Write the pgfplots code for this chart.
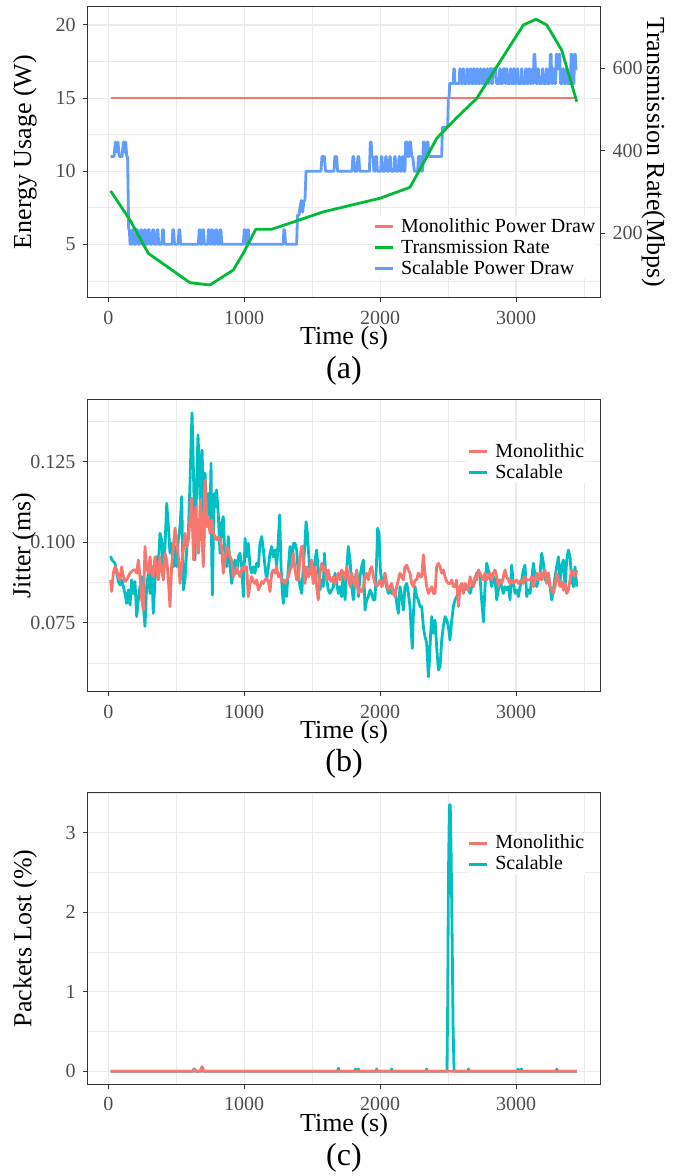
\documentclass[border=0pt]{standalone}
\usepackage{fontspec}
\setmainfont{Liberation Serif}
\usepackage{pgfplots}
\pgfplotsset{compat=1.18}
\definecolor{cred}{HTML}{F8766D}
\definecolor{cgreen}{HTML}{00BA38}
\definecolor{cblue}{HTML}{619CFF}
\definecolor{ccyan}{HTML}{00BFC4}
\definecolor{gridc}{HTML}{EBEBEB}
\definecolor{grey20}{HTML}{333333}
\definecolor{grey30}{HTML}{4D4D4D}
\pgfplotsset{
 gg/.style={
  scale only axis,
  width=513.4pt,
  anchor=south west,
  xmin=-154.5, xmax=3623,
  xtick={0,1000,2000,3000},
  xticklabels={0,1000,2000,3000},
  minor xtick={500,1500,2500,3500},
  grid=both,
  major grid style={draw=gridc, line width=1.1pt},
  minor grid style={draw=gridc, line width=0.7pt},
  minor tick length=0pt,
  major tick length=4.6pt,
  tick align=outside,
  tick pos=left,
  axis line style={draw=grey20, line width=1.1pt},
  every tick/.style={draw=grey20, line width=1pt},
  tick label style={font=\fontsize{20}{24}\selectfont, text=grey30},
  xticklabel style={anchor=base, inner sep=0pt, yshift=-21.8pt},
  yticklabel style={anchor=east, inner sep=0pt, xshift=-7pt},
  legend cell align=left,
  legend style={draw=none, fill=white, inner sep=0pt, font=\fontsize{20}{24}\selectfont, row sep=0pt,
    column sep=6pt,
    nodes={inner sep=1pt, text height=15pt, text depth=4pt}, anchor=north west},
  legend image code/.code={\draw[#1, line width=2.8pt] (0pt,0pt) -- (18pt,0pt);},
 },
}
\tikzset{
 ttlfont/.style={font=\fontsize{26}{30}\selectfont, inner sep=0pt},
 capfont/.style={font=\fontsize{32}{36}\selectfont, inner sep=0pt},
}
\begin{document}
\begin{tikzpicture}
\useasboundingbox (0,0) rectangle (692pt,1176pt);
% ---------------- (a) ----------------
\begin{axis}[gg, at={(87.3pt,878.3pt)}, height=291pt,
  ymin=1.35, ymax=21.25, ytick={5,10,15,20}, yticklabels={5,10,15,20},
  minor ytick={2.5,7.5,12.5,17.5}]
\addplot[cred, line width=2.8pt] coordinates {(17,15)(3440,15)};
\addplot[cblue, line width=2.8pt, line join=round] coordinates {
(17,11)(42,11)(52,12)(62,11.3)(71,12)(81,11)(101,11)(111,12)(120,11.3)(128,12)(136,11)(142,11)(150,6)(155,6)(160,5)
(171,5)(177,6)(183,6)(189,5)
(203,5)(209,6)(215,6)(221,5)
(233,5)(239,6)(245,6)(251,5)
(261,5)(267,6)(273,6)(279,5)
(289,5)(295,6)(301,6)(307,5)
(321,5)(327,6)(333,6)(339,5)
(353,5)(359,6)(365,6)(371,5)
(393,5)(399,6)(405,6)(411,5)
(469,5)(475,6)(481,6)(487,5)
(514,5)(520,6)(526,6)(532,5)
(663,5)(669,6)(675,6)(681,5)
(689,5)(695,6)(701,6)(707,5)
(731,5)(737,6)(743,6)(749,5)
(756,5)(762,6)(768,6)(774,5)
(786,5)(792,6)(798,6)(804,5)
(817,5)(823,6)(829,6)(835,5)
(994,5)(1000,6)(1006,6)(1012,5)
(1019,5)(1025,6)(1031,6)(1037,5)
(1286,5)(1292,6)(1298,6)(1304,5)
(1386,5)(1392,7)(1404,7)(1410,7.5)(1420,8)(1430,7.2)(1440,8)(1447,8)(1455,10)
(1565,10)(1572,11)(1590,11)(1598,10)
(1660,10)(1667,11)(1680,11)(1687,10)
(1793,10)(1800,11)(1806,11)(1813,10)
(1830,10)(1837,11)(1843,11)(1850,10)
(1921,10)(1928,12)(1934,12)(1940,11)(1948,11)(1954,10)
(1962,10)(1968,11)(1974,11)(1980,10)
(2004,10)(2009,11)(2013,11)(2018,10)
(2036,10)(2041,11)(2045,11)(2050,10)
(2066,10)(2071,11)(2075,11)(2080,10)
(2102,10)(2107,11)(2111,11)(2116,10)
(2134,10)(2139,11)(2143,11)(2148,10)
(2159,10)(2164,11)(2168,11)(2173,10)
(2183,10)(2188,12)(2196,12)(2204,11)(2212,11)(2217,12)(2224,12)(2232,11)(2240,11)(2252,10)(2262,10)
(2276,10)(2282,11)(2298,11)(2304,10)
(2312,10)(2318,12)(2325,12)(2333,11)(2340,11)(2346,12)(2352,12)(2360,11)
(2453,11)(2458,13)(2497,13)(2502,15)(2507,15)(2512,16)
(2538,16)(2542,17)(2546,17)(2550,16)
(2582,16)(2586,17)(2590,17)(2594,16)
(2606,16)(2610,17)(2614,17)(2618,16)
(2636,16)(2640,17)(2644,17)(2648,16)
(2660,16)(2664,17)(2668,17)(2672,16)
(2685,16)(2689,17)(2693,17)(2697,16)
(2709,16)(2713,17)(2717,17)(2721,16)
(2734,16)(2738,17)(2742,17)(2746,16)
(2758,16)(2762,17)(2766,17)(2770,16)
(2783,16)(2787,17)(2791,17)(2795,16)
(2802,16)(2806,17)(2818,17)(2822,16)(2828,16)(2832,17)(2850,17)(2856,16)
(2876,16)(2880,17)(2884,17)(2888,16)
(2903,16)(2907,17)(2918,17)(2922,16)
(2925,16)(2929,17)(2933,17)(2937,16)
(2955,16)(2959,17)(2963,17)(2967,16)
(2979,16)(2983,17)(2987,17)(2991,16)
(3004,16)(3008,17)(3012,17)(3016,16)
(3036,16)(3040,17)(3044,17)(3048,16)
(3067,16)(3071,17)(3075,17)(3079,16)
(3092,16)(3096,17)(3100,17)(3104,16)
(3116,16)(3120,17)(3124,17)(3128,16)(3132,18)(3138,18)(3143,17)(3148,16)
(3158,16)(3162,17)(3166,17)(3170,16)
(3190,16)(3194,17)(3198,17)(3202,16)
(3220,16)(3224,17)(3228,17)(3232,16)
(3248,16)(3252,18)(3258,18)(3263,16)
(3269,16)(3273,17)(3277,17)(3281,16)
(3292,16)(3296,18)(3302,18)(3306,17)(3312,17)(3316,18)(3322,18)(3327,16)
(3342,16)(3346,17)(3350,17)(3354,16)
(3367,16)(3371,17)(3375,17)(3379,16)
(3401,16)(3405,18)(3411,18)(3415,16)(3426,16)(3430,18)(3436,18)(3441,17)(3451,17)
};
\end{axis}
\begin{axis}[gg, at={(87.3pt,878.3pt)}, height=291pt,
  ymin=43.9, ymax=749.3, axis y line*=right, hide x axis, grid=none,
  ytick={200,400,600}, yticklabels={200,400,600}, ytick pos=right,
  yticklabel style={anchor=west, xshift=14pt},
  legend style={at={(axis description cs:0.5565,0.2801)}, anchor=north west}]
\addlegendimage{cred}\addlegendentry{Monolithic Power Draw}
\addplot[cgreen, line width=2.8pt, line join=round] coordinates {
(17,302.5)(160,232)(294,151.5)(601,80.2)(748,74.7)(920,111)(993,151.5)(1085,209.7)(1202,209.7)(1582,252)(2000,285)(2220,311.5)(2318,370)(2416,430)(2563,480)(2711,527)(2882,616)(3054,705)(3147,719)(3226,705)(3336,644)(3447,519)};
\addlegendentry{Transmission Rate}
\addlegendimage{cblue}\addlegendentry{Scalable Power Draw}
\end{axis}
% ---------------- (b) ----------------
\begin{axis}[gg, at={(87.3pt,484.3pt)}, height=292.4pt,
  ymin=0.05354, ymax=0.14447, ytick={0.075,0.1,0.125}, yticklabels={0.075,0.100,0.125},
  minor ytick={0.0625,0.0875,0.1125,0.1375},
  legend style={at={(axis description cs:0.7402,0.8567)}, anchor=north west}]
\addlegendimage{cred}\addlegendentry{Monolithic}
\addlegendimage{ccyan}\addlegendentry{Scalable}
\addplot[ccyan, line width=2.8pt, line join=round, forget plot] coordinates {
(17,0.0957)(25,0.0947)(37,0.0940)(49,0.0935)(62,0.0904)(74,0.0878)(86,0.0867)(98,0.0883)(111,0.0862)(123,0.0841)(135,0.0810)(147,0.0852)(160,0.0805)(172,0.0883)(184,0.0841)(196,0.0878)(209,0.0769)(221,0.0821)(233,0.0862)(246,0.0893)(258,0.0800)(270,0.0738)(282,0.0862)(295,0.0904)(307,0.0841)(319,0.0924)(331,0.0779)(344,0.0883)(356,0.0955)(368,0.0924)(380,0.1028)(393,0.1007)(405,0.0904)(417,0.0987)(430,0.1121)(442,0.1049)(454,0.0966)(466,0.0997)(479,0.0924)(491,0.0987)(503,0.0924)(515,0.1007)(528,0.1049)(540,0.1142)(552,0.0852)(564,0.0883)(577,0.0976)(589,0.1028)(601,0.1184)(609,0.1308)(616,0.1403)(623,0.1287)(631,0.1132)(638,0.0945)(645,0.1080)(653,0.1235)(660,0.1334)(667,0.1256)(675,0.1132)(682,0.1215)(690,0.1287)(697,0.1173)(704,0.0987)(712,0.1215)(719,0.1132)(729,0.1049)(736,0.1152)(748,0.1080)(756,0.1246)(761,0.0955)(766,0.0836)(773,0.1028)(780,0.1152)(790,0.1111)(797,0.1163)(810,0.1080)(822,0.0966)(834,0.1059)(846,0.1080)(859,0.0945)(871,0.0924)(883,0.1018)(896,0.0924)(908,0.0872)(920,0.0914)(932,0.0945)(945,0.0904)(957,0.0955)(969,0.0966)(981,0.0924)(994,0.0831)(1006,0.1012)(1018,0.0955)(1030,0.0997)(1043,0.0924)(1055,0.0904)(1067,0.0924)(1079,0.0904)(1092,0.0935)(1104,0.0924)(1116,0.0997)(1129,0.1018)(1141,0.0976)(1153,0.0924)(1165,0.0883)(1178,0.0924)(1190,0.0966)(1202,0.0987)(1214,0.0955)(1227,0.0976)
(1239,0.0924)(1251,0.1007)(1261,0.1085)(1271,0.0924)(1281,0.0841)(1288,0.0810)(1300,0.0883)(1312,0.0831)(1325,0.0924)(1337,0.0987)(1349,0.0924)(1362,0.0997)(1374,0.0997)(1386,0.0976)(1398,0.0904)(1411,0.0862)(1423,0.0841)(1435,0.0924)(1447,0.0997)(1455,0.1064)(1465,0.1028)(1472,0.0976)(1484,0.0904)(1496,0.0935)(1509,0.0872)(1521,0.0945)(1533,0.0976)(1545,0.0914)(1558,0.0852)(1570,0.0883)(1582,0.0862)(1590,0.0966)(1599,0.0904)(1607,0.0883)(1619,0.0852)(1631,0.0841)(1644,0.0852)(1656,0.0862)(1668,0.0904)(1680,0.0872)(1693,0.0841)(1705,0.0862)(1717,0.0831)(1729,0.0904)(1742,0.0821)(1754,0.0914)(1766,0.0987)(1779,0.0945)(1791,0.0862)(1803,0.0821)(1815,0.0883)(1828,0.0914)(1840,0.0831)(1852,0.0893)(1864,0.0924)(1877,0.0945)(1889,0.0789)(1901,0.0821)(1913,0.0831)(1926,0.0852)(1938,0.0841)(1950,0.0821)(1962,0.0821)(1975,0.0955)(1982,0.1044)(1992,0.1028)(2002,0.0914)(2012,0.0872)(2024,0.0883)(2036,0.0904)(2048,0.0862)(2061,0.0841)(2073,0.0852)(2085,0.0841)(2097,0.0841)(2110,0.0852)(2122,0.0810)(2134,0.0779)(2146,0.0862)(2159,0.0831)(2171,0.0789)(2183,0.0862)(2196,0.0872)(2208,0.0841)(2220,0.0800)(2227,0.0738)(2237,0.0670)(2245,0.0779)(2257,0.0862)(2269,0.0831)(2281,0.0821)(2294,0.0800)(2306,0.0800)(2318,0.0738)(2330,0.0707)(2343,0.0686)(2355,0.0582)(2362,0.0624)(2372,0.0717)(2380,0.0769)(2392,0.0717)(2404,0.0758)(2416,0.0675)(2429,0.0603)(2441,0.0613)(2453,0.0696)(2465,0.0738)(2478,0.0769)
(2490,0.0758)(2502,0.0738)(2514,0.0696)(2527,0.0758)(2539,0.0800)(2551,0.0821)(2563,0.0831)(2576,0.0841)(2588,0.0862)(2600,0.0862)(2613,0.0852)(2625,0.0852)(2637,0.0862)(2649,0.0852)(2662,0.0841)(2674,0.0862)(2686,0.0862)(2698,0.0883)(2711,0.0904)(2723,0.0909)(2735,0.0893)(2747,0.0821)(2760,0.0753)(2772,0.0862)(2784,0.0935)(2796,0.0914)(2809,0.0893)(2821,0.0862)(2833,0.0893)(2846,0.0883)(2858,0.0821)(2870,0.0852)(2882,0.0883)(2895,0.0862)(2907,0.0841)(2919,0.0862)(2931,0.0852)(2944,0.0862)(2956,0.0821)(2968,0.0929)(2980,0.0872)(2993,0.0841)(3005,0.0852)(3017,0.0831)(3030,0.0862)(3042,0.0883)(3054,0.0914)(3066,0.0929)(3079,0.0831)(3091,0.0852)(3103,0.0841)(3115,0.0883)(3128,0.0935)(3140,0.0893)(3152,0.0862)(3164,0.0883)(3177,0.0904)(3189,0.0966)(3201,0.0935)(3213,0.0883)(3226,0.0893)(3238,0.0904)(3250,0.0862)(3263,0.0821)(3275,0.0852)(3287,0.0893)(3299,0.0924)(3312,0.0955)(3324,0.0883)(3336,0.0924)(3348,0.0945)(3361,0.0862)(3373,0.0945)(3385,0.0976)(3397,0.0955)(3410,0.0883)(3422,0.0862)(3434,0.0924)(3447,0.0862)};
\addplot[cred, line width=2.8pt, line join=round, forget plot] coordinates {
(17,0.0883)(25,0.0847)(37,0.0904)(49,0.0924)(62,0.0914)(74,0.0893)(86,0.0883)(98,0.0924)(111,0.0893)(123,0.0878)(135,0.0883)(147,0.0893)(160,0.0904)(172,0.0909)(184,0.0914)(196,0.0914)(209,0.0904)(221,0.0945)(233,0.0893)(246,0.0821)(258,0.0789)(270,0.0987)(282,0.0924)(295,0.0904)(307,0.0955)(319,0.0904)(331,0.0893)(344,0.0955)(356,0.0924)(368,0.0883)(380,0.0955)(393,0.0914)(405,0.0883)(417,0.0966)(430,0.0945)(442,0.0883)(454,0.0800)(466,0.0924)(479,0.0987)(491,0.1044)(503,0.1007)(515,0.0955)(528,0.0872)(540,0.0935)(552,0.0976)(564,0.1028)(577,0.0987)(589,0.1007)(601,0.1069)(613,0.1137)(621,0.1028)(628,0.0945)(638,0.1080)(645,0.1111)(653,0.1007)(663,0.0966)(670,0.1049)(677,0.1132)(687,0.1038)(699,0.0924)(707,0.1132)(712,0.1194)(719,0.1132)(726,0.1049)(736,0.1080)(748,0.1028)(761,0.1069)(773,0.1028)(785,0.1018)(797,0.1007)(810,0.1018)(822,0.1007)(834,0.0987)(846,0.0904)(859,0.0945)(871,0.0987)(883,0.0976)(896,0.0955)(908,0.0945)(920,0.0893)(932,0.0904)(945,0.0924)(957,0.0904)(969,0.0893)(981,0.0914)(994,0.0924)(1006,0.0914)(1018,0.0924)(1030,0.0831)(1043,0.0872)(1055,0.0893)(1067,0.0878)(1079,0.0872)(1092,0.0883)(1104,0.0852)(1116,0.0862)(1129,0.0878)(1141,0.0872)(1153,0.0883)(1165,0.0888)(1178,0.0878)(1190,0.0847)(1202,0.0904)(1214,0.0914)(1227,0.0904)
(1239,0.0924)(1251,0.0893)(1263,0.0904)(1276,0.0878)(1288,0.0883)(1300,0.0872)(1312,0.0883)(1325,0.0893)(1337,0.0914)(1349,0.0924)(1362,0.0966)(1374,0.0914)(1386,0.0883)(1398,0.0883)(1411,0.0955)(1423,0.0987)(1430,0.0987)(1440,0.0904)(1447,0.0872)(1460,0.0924)(1472,0.0893)(1484,0.0904)(1496,0.0945)(1509,0.0872)(1521,0.0924)(1533,0.0862)(1545,0.0821)(1558,0.0904)(1570,0.0935)(1582,0.0914)(1595,0.0924)(1607,0.0883)(1619,0.0914)(1631,0.0883)(1644,0.0878)(1656,0.0893)(1668,0.0872)(1680,0.0883)(1693,0.0904)(1705,0.0883)(1717,0.0914)(1729,0.0904)(1742,0.0883)(1754,0.0924)(1766,0.0893)(1779,0.0862)(1791,0.0904)(1803,0.0883)(1815,0.0862)(1828,0.0914)(1840,0.0841)(1852,0.0852)(1864,0.0847)(1877,0.0862)(1889,0.0893)(1901,0.0904)(1913,0.0883)(1926,0.0914)(1938,0.0924)(1950,0.0893)(1962,0.0872)(1975,0.0862)(1987,0.0872)(1999,0.0883)(2012,0.0862)(2024,0.0872)(2036,0.0904)(2048,0.0872)(2061,0.0852)(2073,0.0862)(2085,0.0872)(2097,0.0841)(2110,0.0831)(2122,0.0862)(2134,0.0883)(2146,0.0904)(2159,0.0893)(2171,0.0883)(2183,0.0924)(2196,0.0929)(2208,0.0914)(2220,0.0904)(2232,0.0872)(2245,0.0862)(2257,0.0883)(2269,0.0883)(2281,0.0904)(2294,0.0893)(2306,0.0893)(2318,0.0961)(2330,0.0904)(2343,0.0862)(2355,0.0841)(2367,0.0852)(2380,0.0862)(2392,0.0841)(2404,0.0841)(2416,0.0924)(2429,0.0935)(2441,0.0924)(2453,0.0904)(2465,0.0914)(2478,0.0893)
(2490,0.0878)(2502,0.0872)(2514,0.0872)(2527,0.0883)(2539,0.0862)(2551,0.0862)(2563,0.0883)(2576,0.0800)(2588,0.0862)(2600,0.0872)(2613,0.0841)(2625,0.0872)(2637,0.0862)(2649,0.0852)(2662,0.0893)(2674,0.0872)(2686,0.0862)(2698,0.0893)(2711,0.0883)(2723,0.0914)(2735,0.0904)(2747,0.0893)(2760,0.0883)(2772,0.0904)(2784,0.0883)(2796,0.0893)(2809,0.0904)(2821,0.0883)(2833,0.0904)(2846,0.0914)(2858,0.0893)(2870,0.0862)(2882,0.0883)(2895,0.0872)(2907,0.0893)(2919,0.0914)(2931,0.0893)(2944,0.0883)(2956,0.0872)(2968,0.0883)(2980,0.0872)(2993,0.0878)(3005,0.0883)(3017,0.0872)(3030,0.0878)(3042,0.0883)(3054,0.0872)(3066,0.0893)(3079,0.0883)(3091,0.0883)(3103,0.0883)(3115,0.0893)(3128,0.0862)(3140,0.0883)(3152,0.0904)(3164,0.0883)(3177,0.0904)(3189,0.0883)(3201,0.0904)(3213,0.0914)(3226,0.0872)(3238,0.0904)(3250,0.0862)(3263,0.0852)(3275,0.0841)(3287,0.0862)(3299,0.0904)(3312,0.0883)(3324,0.0862)(3336,0.0878)(3348,0.0852)(3361,0.0872)(3373,0.0841)(3385,0.0852)(3397,0.0883)(3410,0.0914)(3422,0.0904)(3434,0.0893)(3447,0.0914)};
\end{axis}
% ---------------- (c) ----------------
\begin{axis}[gg, at={(87.3pt,91.7pt)}, height=292pt,
  ymin=-0.163, ymax=3.508, ytick={0,1,2,3}, yticklabels={0,1,2,3},
  minor ytick={0.5,1.5,2.5,3.5},
  legend style={at={(axis description cs:0.7402,0.8613)}, anchor=north west}]
\addlegendimage{cred}\addlegendentry{Monolithic}
\addlegendimage{ccyan}\addlegendentry{Scalable}
\addplot[ccyan, line width=2.8pt, line join=round, forget plot] coordinates {
(17,0)(620,0)(632,0.03)(640,0)(686,0)(692,0.03)(698,0)(1688,0)(1693,0.04)(1698,0)(1812,0)(1818,0.03)(1824,0)(1836,0)(1840,0.03)(1846,0)(1970,0)(1975,0.03)(1980,0)(2080,0)(2085,0.03)(2090,0)(2337,0)(2342,0.03)(2347,0)
(2492,0)(2497,0.83)(2503,2.5)(2510,3.35)(2516,3.35)(2522,2.78)(2530,1.67)(2537,0.55)(2544,0)
(2645,0)(2650,0.03)(2655,0)(3010,0)(3015,0.03)(3020,0)(3035,0)(3040,0.03)(3045,0)(3295,0)(3300,0.03)(3305,0)(3447,0)};
\addplot[cred, line width=2.8pt, line join=round, forget plot] coordinates {
(17,0)(628,0)(632,0.02)(640,0.02)(644,0)(676,0)(684,0.04)(690,0.06)(696,0.04)(702,0)(3447,0)};
\end{axis}
% ---------------- titles ----------------
\node[ttlfont, rotate=90] at (25pt,1023.8pt) {Energy Usage (W)};
\node[ttlfont, rotate=-90] at (653.3pt,1023.8pt) {Transmission Rate(Mbps)};
\node[ttlfont] at (344pt,838pt) {Time (s)};
\node[capfont] at (344pt,805pt) {(a)};
\node[ttlfont, rotate=90] at (24pt,630.5pt) {Jitter (ms)};
\node[ttlfont] at (344pt,443.5pt) {Time (s)};
\node[capfont] at (344pt,412pt) {(b)};
\node[ttlfont, rotate=90] at (25pt,237.7pt) {Packets Lost (\%)};
\node[ttlfont] at (344pt,51pt) {Time (s)};
\node[capfont] at (344pt,18pt) {(c)};
\end{tikzpicture}
\end{document}
